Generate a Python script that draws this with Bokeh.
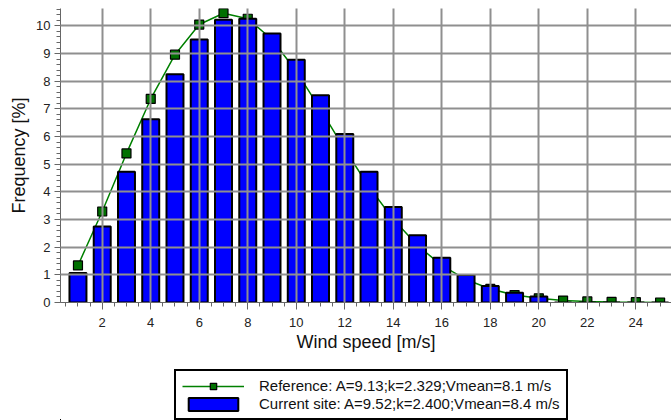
from bokeh.plotting import figure
from bokeh.layouts import column
from bokeh.models import Range1d, SingleIntervalTicker, Legend, LegendItem, ColumnDataSource
from bokeh.embed import file_html
from bokeh.resources import INLINE

wind_speed = list(range(1, 26))
current_site = [1.07, 2.75, 4.73, 6.63, 8.25, 9.51, 10.22, 10.26, 9.73, 8.78,
                7.49, 6.09, 4.73, 3.45, 2.43, 1.62, 0.99, 0.60, 0.35, 0.22,
                0.0, 0.0, 0.0, 0.0, 0.0]
reference = [1.34, 3.29, 5.39, 7.36, 8.96, 10.05, 10.46, 10.26, 9.51, 8.36,
             6.98, 5.54, 4.18, 3.01, 2.06, 1.34, 0.83, 0.49, 0.27, 0.15,
             0.07, 0.04, 0.02, 0.01, 0.0]
ref_label = "Reference: A=9.13;k=2.329;Vmean=8.1 m/s"
cur_label = "Current site: A=9.52;k=2.400;Vmean=8.4 m/s"
x_title = "Wind speed [m/s]"
y_title = "Frequency [%]"

src = ColumnDataSource(dict(x=wind_speed, cur=current_site, ref=reference))

FONT = "Liberation Sans"
LINE_STYLE = dict(line_color="#008000", line_width=1.5)
MARK_STYLE = dict(marker="square", size=9, fill_color="#007000",
                  line_color="black", line_width=1.2)
BAR_STYLE = dict(width=0.7, fill_color="#0000ff", line_color="black", line_width=2)

p = figure(width=671, height=356, output_backend="svg", toolbar_location=None,
           x_range=Range1d(0.28, 25.47), y_range=Range1d(0, 10.63),
           min_border_left=60, min_border_right=0, min_border_top=8,
           min_border_bottom=54)
p.outline_line_color = None
p.background_fill_color = "white"

p.line("x", "ref", source=src, **LINE_STYLE)
p.scatter("x", "ref", source=src, **MARK_STYLE)
p.vbar(x="x", top="cur", source=src, **BAR_STYLE)

p.xaxis.ticker = SingleIntervalTicker(interval=2, num_minor_ticks=4)
p.yaxis.ticker = SingleIntervalTicker(interval=1, num_minor_ticks=5)

for g in (p.xgrid, p.ygrid):
    g.grid_line_color = "#8f8f8f"
    g.grid_line_width = 2
    g.level = "overlay"

for ax in (p.xaxis, p.yaxis):
    ax.axis_line_color = "#666666"
    ax.major_tick_line_color = "#666666"
    ax.minor_tick_line_color = "#666666"
    ax.major_tick_in = 0
    ax.minor_tick_in = 0
    ax.major_label_text_font = FONT
    ax.major_label_text_font_size = "13px"
    ax.major_label_text_color = "#222222"
    ax.axis_label_text_font = FONT
    ax.axis_label_text_font_size = "18px"
    ax.axis_label_text_font_style = "normal"
    ax.axis_label_text_color = "#111111"

p.xaxis.axis_label = x_title
p.yaxis.axis_label = y_title
p.xaxis.major_tick_out = 7
p.xaxis.minor_tick_out = 4
p.yaxis.major_tick_out = 6
p.yaxis.minor_tick_out = 4
p.xaxis.major_label_standoff = 8
p.xaxis.axis_label_standoff = 2
p.yaxis.major_label_standoff = 4
p.yaxis.axis_label_standoff = 4

# legend strip below the chart (its glyphs use the same data, out of view)
leg = figure(width=671, height=64, output_backend="svg", toolbar_location=None,
             x_range=Range1d(100, 101), y_range=Range1d(100, 101),
             x_axis_type=None, y_axis_type=None, min_border=0)
leg.outline_line_color = None
leg.grid.visible = False
l_line = leg.line("x", "ref", source=src, **LINE_STYLE)
l_mark = leg.scatter("x", "ref", source=src, **MARK_STYLE)
l_bar = leg.vbar(x="x", top="cur", source=src, **BAR_STYLE)

legend = Legend(items=[LegendItem(label=ref_label, renderers=[l_line, l_mark]),
                       LegendItem(label=cur_label, renderers=[l_bar])],
                location=(114, 0), margin=0, padding=6, spacing=1,
                glyph_width=62, glyph_height=16, label_standoff=15,
                label_text_font=FONT, label_text_font_size="15px",
                label_text_color="#111111",
                border_line_color="black", border_line_width=2,
                border_line_alpha=1.0,
                background_fill_color="white", background_fill_alpha=1.0)
leg.add_layout(legend)

open("out.html", "w").write(file_html(column(p, leg, spacing=0), INLINE))
